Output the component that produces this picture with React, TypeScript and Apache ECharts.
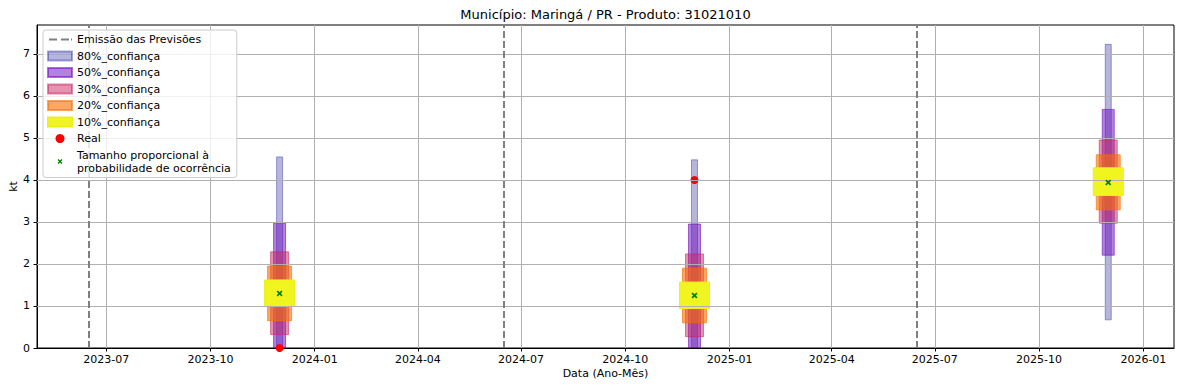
import React, { useEffect, useRef } from "react";
import * as echarts from "echarts";

const FONT = "DejaVu Sans, sans-serif";

// ---- data ----
const emissionDates = ["2023-06-16", "2024-06-16", "2025-06-15"];
const forecastDates = ["2023-12-01", "2024-12-01", "2025-12-01"];
const ci80Low = [0, 0, 0.67];
const ci80High = [4.55, 4.48, 7.23];
const ci50Low = [0, 0, 2.21];
const ci50High = [2.98, 2.95, 5.68];
const ci30Low = [0.32, 0.27, 2.97];
const ci30High = [2.29, 2.24, 4.95];
const ci20Low = [0.65, 0.6, 3.29];
const ci20High = [1.95, 1.9, 4.6];
const ci10Low = [1.0, 0.94, 3.63];
const ci10High = [1.62, 1.57, 4.29];
const medianValues = [1.3, 1.25, 3.94];
const realDates = ["2023-12-01", "2024-12-01"];
const realValues = [0, 4.0];
const xTickLabels = [
  "2023-07", "2023-10", "2024-01", "2024-04", "2024-07", "2024-10",
  "2025-01", "2025-04", "2025-07", "2025-10", "2026-01",
];
const yTicks = [0, 1, 2, 3, 4, 5, 6, 7];
const xMinDate = "2023-05-01";
const xMaxDate = "2026-01-28";
const yMax = 7.69;

const TITLE = "Município: Maringá / PR - Produto: 31021010";

function ts(d: string): number {
  const [y, m, day] = d.split("-").map(Number);
  return Date.UTC(y, m - 1, day || 1);
}
function fmtMonth(v: number): string {
  const d = new Date(v);
  const m = d.getUTCMonth() + 1;
  return `${d.getUTCFullYear()}-${m < 10 ? "0" + m : m}`;
}

// marker shapes
const X_PATH = "path://M0,2L2,0L5,3L8,0L10,2L7,5L10,8L8,10L5,7L2,10L0,8L3,5Z";
const X_LEGEND_PATH =
  "path://M0,0h0.01v0.01h-0.01zM10.99,10.99h0.01v0.01h-0.01z" +
  "M2.5,3.7L3.7,2.5L5.5,4.3L7.3,2.5L8.5,3.7L6.7,5.5L8.5,7.3L7.3,8.5L5.5,6.7L3.7,8.5L2.5,7.3L4.3,5.5Z";
const DASH_LEGEND_PATH =
  "path://M0,0h0.01v9h-0.01zM23.99,0h0.01v9h-0.01z" +
  "M1,3.5h8v2h-8zM13,3.5h8v2h-8zM23,3.5h1v2h-1z";

function bandSeries(
  name: string,
  lows: number[],
  highs: number[],
  width: number,
  fill: string,
  stroke: string
) {
  return {
    name,
    type: "custom",
    z: 2,
    clip: true,
    itemStyle: { color: fill, borderColor: stroke, borderWidth: 1 },
    encode: { x: 0, y: [1, 2] },
    data: forecastDates.map((d, i) => [ts(d), lows[i], highs[i]]),
    renderItem: (_params: any, api: any) => {
      const x = api.value(0);
      const lo = api.value(1);
      const hi = api.value(2);
      const pTop = api.coord([x, hi]);
      const pBot = api.coord([x, lo]);
      return {
        type: "rect",
        shape: {
          x: pTop[0] - width / 2,
          y: pTop[1],
          width,
          height: pBot[1] - pTop[1],
        },
        style: { fill, stroke, lineWidth: 1 },
      };
    },
  };
}

export default function App() {
  const ref = useRef<HTMLDivElement>(null);

  useEffect(() => {
    if (!ref.current) return;
    const chart = echarts.init(ref.current, null, { renderer: "svg" });
    const xTicks = xTickLabels.map((l) => ts(l + "-01"));

    const option: any = {
      animation: false,
      backgroundColor: "#ffffff",
      textStyle: { fontFamily: FONT },
      grid: {
        left: 37,
        right: 7,
        top: 25,
        bottom: 40,
        outerBoundsMode: "none",
        containLabel: false,
        show: true,
        borderColor: "#000",
        borderWidth: 1,
        backgroundColor: "transparent",
      },
      graphic: [
        {
          type: "text",
          x: 605.5,
          y: 14,
          style: {
            text: TITLE,
            fontFamily: FONT,
            fontSize: 13,
            fill: "#000",
            textAlign: "center",
            textVerticalAlign: "middle",
          },
        },
      ],
      legend: {
        orient: "vertical",
        left: 43,
        top: 30,
        z: 10,
        padding: [3, 6, 3, 4],
        itemGap: 3.5,
        itemWidth: 24,
        itemHeight: 9,
        backgroundColor: "rgba(255,255,255,0.8)",
        borderColor: "#cccccc",
        borderWidth: 1,
        borderRadius: 3,
        textStyle: { fontFamily: FONT, fontSize: 11, color: "#000", lineHeight: 13 },
        data: [
          { name: "Emissão das Previsões", icon: DASH_LEGEND_PATH, itemStyle: { color: "#808080" } },
          { name: "80%_confiança", icon: "rect" },
          { name: "50%_confiança", icon: "rect" },
          { name: "30%_confiança", icon: "rect" },
          { name: "20%_confiança", icon: "rect" },
          { name: "10%_confiança", icon: "rect" },
          { name: "Real", icon: "circle" },
          { name: "Tamanho proporcional à\nprobabilidade de ocorrência", icon: X_LEGEND_PATH },
        ],
      },
      xAxis: {
        type: "value",
        min: ts(xMinDate),
        max: ts(xMaxDate),
        name: "Data (Ano-Mês)",
        nameLocation: "middle",
        nameGap: 19.5,
        nameMoveOverlap: false,
        nameTextStyle: { fontFamily: FONT, fontSize: 11, color: "#000" },
        axisLine: { show: true, onZero: false, lineStyle: { color: "#000", width: 1 } },
        axisTick: { show: true, length: 3.5, customValues: xTicks, lineStyle: { color: "#000" } },
        axisLabel: {
          customValues: xTicks,
          formatter: (v: number) => fmtMonth(v),
          fontFamily: FONT,
          fontSize: 11,
          color: "#000",
          margin: 6,
        },
        splitLine: { show: false },
      },
      yAxis: {
        type: "value",
        min: 0,
        max: yMax,
        name: "kt",
        nameLocation: "middle",
        nameGap: 18.5,
        nameMoveOverlap: false,
        nameRotate: 90,
        nameTextStyle: { fontFamily: FONT, fontSize: 11, color: "#000" },
        axisLine: { show: true, lineStyle: { color: "#000", width: 1 } },
        axisTick: { show: true, length: 3.5, customValues: yTicks, lineStyle: { color: "#000" } },
        axisLabel: {
          customValues: yTicks,
          fontFamily: FONT,
          fontSize: 11,
          color: "#000",
          margin: 7,
        },
        splitLine: { show: false },
      },
      series: [
        bandSeries("80%_confiança", ci80Low, ci80High, 6, "rgba(0,0,140,0.29)", "rgba(0,0,140,0.35)"),
        bandSeries("50%_confiança", ci50Low, ci50High, 12, "rgba(113,19,189,0.53)", "rgba(113,19,189,0.6)"),
        bandSeries("30%_confiança", ci30Low, ci30High, 18, "rgba(201,39,97,0.5)", "rgba(201,39,97,0.55)"),
        bandSeries("20%_confiança", ci20Low, ci20High, 24, "rgba(248,110,0,0.6)", "rgba(248,110,0,0.62)"),
        bandSeries("10%_confiança", ci10Low, ci10High, 30, "rgba(240,245,32,1)", "rgba(235,240,30,1)"),
        {
          name: "__grid",
          type: "line",
          z: 3,
          data: [],
          silent: true,
          markLine: {
            silent: true,
            symbol: ["none", "none"],
            label: { show: false },
            lineStyle: { color: "#b0b0b0", width: 1, type: "solid" },
            data: [
              ...xTicks.map((t) => ({ xAxis: t })),
              ...yTicks.filter((v) => v > 0).map((v) => ({ yAxis: v })),
            ],
          },
        },
        {
          name: "Emissão das Previsões",
          type: "line",
          z: 3,
          data: [],
          symbol: "none",
          itemStyle: { color: "#808080" },
          lineStyle: { color: "#808080", width: 2, type: [7, 3] },
          markLine: {
            silent: true,
            symbol: ["none", "none"],
            label: { show: false },
            lineStyle: { color: "#808080", width: 2, type: [7, 3] },
            data: emissionDates.map((d) => ({ xAxis: ts(d) })),
          },
        },
        {
          name: "Real",
          type: "scatter",
          z: 4,
          symbol: "circle",
          symbolSize: 8,
          itemStyle: { color: "#ff0000", opacity: 1 },
          data: realDates.map((d, i) => [ts(d), realValues[i]]),
        },
        {
          name: "Tamanho proporcional à\nprobabilidade de ocorrência",
          type: "scatter",
          z: 5,
          symbol: X_PATH,
          symbolSize: 6,
          itemStyle: { color: "#008000", opacity: 1 },
          data: forecastDates.map((d, i) => [ts(d), medianValues[i]]),
        },
      ],
    };

    chart.setOption(option);
    return () => chart.dispose();
  }, []);

  return (
    <div
      ref={ref}
      style={{ position: "fixed", left: 0, top: 0, width: 1181, height: 388 }}
    />
  );
}
